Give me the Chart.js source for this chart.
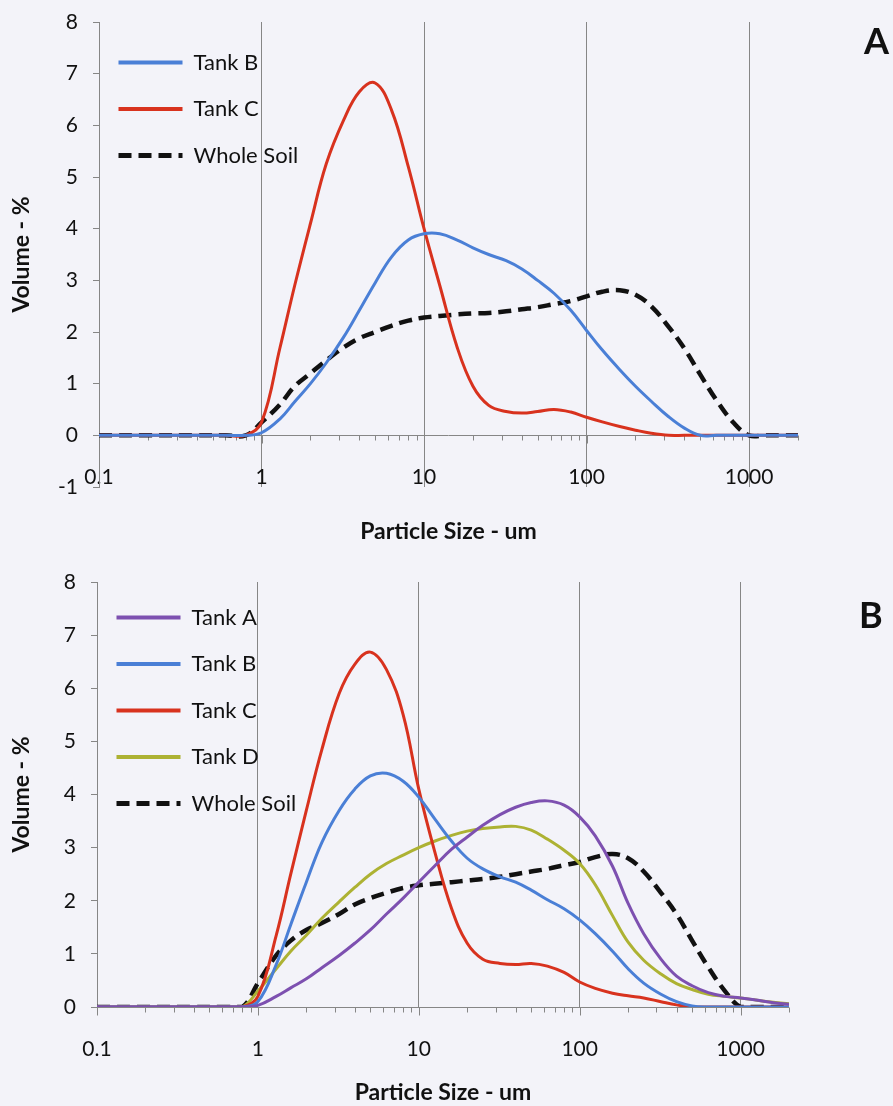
<!DOCTYPE html>
<html>
<head>
<meta charset="utf-8">
<script src="https://cdn.jsdelivr.net/npm/chart.js@4.4.1/dist/chart.umd.min.js"></script>
<style>
  body { margin: 0; background: #f3f3f9; }
  #wrap { position: relative; width: 893px; height: 1106px; }
  .box { position: absolute; left: 0; width: 893px; }
  .panel { position: absolute; font: bold 36px Lato, sans-serif; color: #111; }
</style>
</head>
<body>
<div id="wrap">
  <div class="box" style="top:0;height:545px"><canvas id="chartA" width="893" height="545"></canvas></div>
  <div class="box" style="top:545px;height:561px"><canvas id="chartB" width="893" height="561"></canvas></div>
  <div class="panel" style="left:864px;top:18px">A</div>
  <div class="panel" style="left:859px;top:592px">B</div>
</div>
<script>
// tamaños de partícula (um) y etiquetas del eje x
const sizes = [0.1, 0.2, 0.4, 0.6, 0.8, 1, 1.3, 1.6, 2, 2.5, 3.2, 4, 5, 6.3, 8, 10, 12.5, 16, 20, 25,
    32, 40, 50, 63, 80, 100, 125, 160, 200, 250, 320, 400, 500, 630, 800, 1000, 1250, 1600, 2000];
const decadeTicks = [0.1, 1, 10, 100, 1000];

// panel A
const panelA_tankB = [0, 0, 0, 0, 0, 0.05, 0.32, 0.65, 1.0, 1.4, 1.9, 2.42, 2.95, 3.45, 3.78, 3.9, 3.9, 3.78, 3.63, 3.5,
    3.38, 3.22, 3.0, 2.75, 2.42, 2.03, 1.65, 1.27, 0.95, 0.66, 0.36, 0.14, 0, 0, 0, 0, 0, 0, 0];
const panelA_tankC = [0, 0, 0, 0, 0, 0.25, 1.7, 2.9, 4.1, 5.25, 6.1, 6.65, 6.82, 6.3, 5.2, 4.0, 2.9, 1.7, 0.95, 0.58,
    0.46, 0.43, 0.46, 0.5, 0.45, 0.35, 0.26, 0.17, 0.1, 0.04, 0, 0, 0, 0, 0, 0, 0, 0, 0];
const panelA_wholeSoil = [0, 0, 0, 0, 0, 0.25, 0.6, 0.95, 1.2, 1.45, 1.7, 1.88, 2.0, 2.12, 2.22, 2.28, 2.31, 2.34, 2.36, 2.37,
    2.4, 2.44, 2.48, 2.54, 2.6, 2.69, 2.78, 2.81, 2.72, 2.5, 2.1, 1.68, 1.18, 0.68, 0.25, 0, 0, 0, 0];

// panel B
const panelB_tankA = [0, 0, 0, 0, 0, 0.03, 0.2, 0.36, 0.53, 0.74, 0.97, 1.2, 1.45, 1.75, 2.05, 2.35, 2.65, 2.97, 3.2, 3.42,
    3.62, 3.76, 3.85, 3.88, 3.8, 3.58, 3.22, 2.65, 1.95, 1.38, 0.9, 0.58, 0.4, 0.27, 0.2, 0.17, 0.13, 0.08, 0.05];
const panelB_tankB = [0, 0, 0, 0, 0, 0.1, 0.8, 1.55, 2.35, 3.1, 3.7, 4.1, 4.35, 4.4, 4.25, 3.95, 3.55, 3.12, 2.8, 2.6,
    2.45, 2.35, 2.2, 2.02, 1.85, 1.64, 1.38, 1.05, 0.72, 0.45, 0.24, 0.1, 0.02, 0, 0, 0, 0, 0, 0];
const panelB_tankC = [0, 0, 0, 0, 0, 0.2, 1.35, 2.5, 3.7, 4.85, 5.9, 6.45, 6.68, 6.35, 5.5, 4.1, 2.95, 1.85, 1.2, 0.9,
    0.82, 0.8, 0.82, 0.77, 0.65, 0.47, 0.35, 0.26, 0.21, 0.17, 0.1, 0.04, 0, 0, 0, 0, 0, 0, 0];
const panelB_tankD = [0, 0, 0, 0, 0, 0.3, 0.72, 1.05, 1.35, 1.67, 1.98, 2.25, 2.5, 2.7, 2.86, 3.0, 3.12, 3.23, 3.31, 3.36,
    3.39, 3.4, 3.33, 3.16, 2.95, 2.7, 2.3, 1.72, 1.22, 0.88, 0.62, 0.44, 0.33, 0.24, 0.2, 0.17, 0.13, 0.09, 0.06];
const panelB_wholeSoil = [0, 0, 0, 0, 0, 0.45, 0.97, 1.25, 1.45, 1.58, 1.75, 1.93, 2.05, 2.15, 2.24, 2.29, 2.32, 2.35, 2.38, 2.41,
    2.45, 2.5, 2.55, 2.6, 2.67, 2.73, 2.82, 2.88, 2.8, 2.55, 2.15, 1.75, 1.25, 0.75, 0.3, 0, 0, 0, 0];

const colores = {
    tankA: '#7d50b0',
    tankB: '#4a7fd6',
    tankC: '#d8321e',
    tankD: '#adb233',
    soil: '#111111'
};

const fuente = 'Lato, "Open Sans", sans-serif';
const gris = '#868686';

// une cada serie con los tamaños de partícula
function puntos(valores) {
    return sizes.map((s, i) => ({ x: s, y: valores[i] }));
}

function serie(label, valores, color, discontinua) {
    return {
        label: label,
        data: puntos(valores),
        borderColor: color,
        backgroundColor: color,
        borderWidth: discontinua ? 4.5 : 3,
        borderDash: discontinua ? [13, 7] : [],
        pointRadius: 0,
        tension: 0.4,
        fill: false
    };
}

// eje horizontal en y = 0 con marcas menores logarítmicas
const ejeCero = {
    id: 'ejeCero',
    beforeDatasetsDraw(chart) {
        const x = chart.scales.x, y = chart.scales.y;
        const y0 = Math.round(y.getPixelForValue(0)) + 0.5;
        const ctx = chart.ctx;
        ctx.save();
        ctx.strokeStyle = gris;
        ctx.lineWidth = 1;
        ctx.beginPath();
        ctx.moveTo(x.left, y0);
        ctx.lineTo(x.right, y0);
        for (let d = 0.1; d <= 1000; d *= 10) {
            for (let m = 1; m <= 9; m++) {
                const v = d * m;
                if (v > x.max) break;
                const px = Math.round(x.getPixelForValue(v)) + 0.5;
                const largo = m === 1 ? 8 : 5;
                ctx.moveTo(px, y0);
                ctx.lineTo(px, y0 + largo);
            }
        }
        ctx.stroke();
        ctx.restore();
    }
};

// la leyenda va dentro del área del gráfico, arriba a la izquierda
const leyendaDentro = {
    id: 'leyendaDentro',
    afterLayout(chart, args, opts) {
        const l = chart.legend, a = chart.chartArea;
        l.left = a.left + opts.dx;
        l.top = a.top + opts.dy;
    }
};

function etiquetasLeyenda(chart) {
    const base = Chart.defaults.plugins.legend.labels.generateLabels(chart);
    return base.map(item => {
        const ds = chart.data.datasets[item.datasetIndex];
        item.lineDash = ds.borderDash;
        item.lineWidth = ds.borderDash.length ? 5 : 4;
        return item;
    });
}

function crearGrafico(id, datasets, yMin, caja) {
    return new Chart(document.getElementById(id), {
        type: 'line',
        data: { datasets: datasets },
        plugins: [ejeCero, leyendaDentro],
        options: {
            responsive: false,
            animation: false,
            devicePixelRatio: 1,
            layout: { padding: { left: 0, top: caja.top, right: caja.right, bottom: 0 } },
            plugins: {
                tooltip: { enabled: false },
                leyendaDentro: { dx: -5, dy: caja.legendDy },
                legend: {
                    position: 'chartArea',
                    align: 'start',
                    labels: {
                        usePointStyle: true,
                        pointStyle: 'line',
                        pointStyleWidth: 64,
                        padding: 24.5,
                        color: '#111',
                        font: { family: fuente, size: 22 },
                        generateLabels: etiquetasLeyenda
                    }
                }
            },
            scales: {
                x: {
                    type: 'logarithmic',
                    min: 0.1,
                    max: 2000,
                    afterBuildTicks: (s) => { s.ticks = decadeTicks.map(v => ({ value: v })); },
                    afterFit: (s) => { s.height = caja.xHeight; },
                    border: { display: false },
                    grid: { color: gris, lineWidth: 1, drawTicks: false },
                    ticks: {
                        mirror: caja.xMirror,
                        padding: caja.xPad,
                        color: '#111',
                        font: { family: fuente, size: 21 },
                        callback: (v) => String(v)
                    },
                    title: {
                        display: true,
                        text: 'Particle Size - um',
                        color: '#111',
                        font: { family: fuente, size: 23, weight: 'bold' },
                        padding: { top: 0, bottom: 0 }
                    }
                },
                y: {
                    min: yMin,
                    max: 8,
                    afterFit: (s) => {
                        s.width = caja.left;
                        s.paddingTop = 0;
                        s.paddingBottom = 0;
                    },
                    border: { display: true, color: gris, width: 1 },
                    grid: { drawOnChartArea: false, drawTicks: true, tickLength: 6, color: gris },
                    ticks: {
                        stepSize: 1,
                        padding: 15,
                        color: '#111',
                        font: { family: fuente, size: 21 }
                    },
                    title: {
                        display: true,
                        text: 'Volume - %',
                        color: '#111',
                        font: { family: fuente, size: 23, weight: 'bold' },
                        padding: { top: 8, bottom: 0 }
                    }
                }
            }
        }
    });
}

crearGrafico('chartA', [
    serie('Tank B', panelA_tankB, colores.tankB, false),
    serie('Tank C', panelA_tankC, colores.tankC, false),
    serie('Whole Soil', panelA_wholeSoil, colores.soil, true)
], -1, { left: 99, top: 22, right: 95, xHeight: 58, xMirror: true, xPad: -3, legendDy: 5 });

crearGrafico('chartB', [
    serie('Tank A', panelB_tankA, colores.tankA, false),
    serie('Tank B', panelB_tankB, colores.tankB, false),
    serie('Tank C', panelB_tankC, colores.tankC, false),
    serie('Tank D', panelB_tankD, colores.tankD, false),
    serie('Whole Soil', panelB_wholeSoil, colores.soil, true)
], 0, { left: 97, top: 37, right: 104, xHeight: 99, xMirror: false, xPad: 30, legendDy: 0 });
</script>
</body>
</html>
